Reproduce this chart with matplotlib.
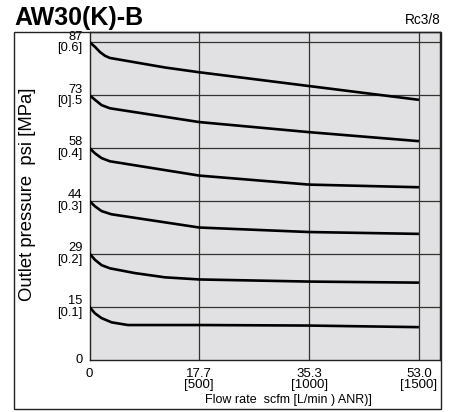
import matplotlib
matplotlib.use("Agg")
import matplotlib.pyplot as plt
from matplotlib.patches import Rectangle

plt.rcParams['font.family'] = ['Liberation Sans', 'DejaVu Sans']

# Data: flow rate (L/min ANR) vs outlet pressure (MPa)
flow_06 = [0, 25, 48, 71, 93, 344, 500, 1000, 1500]
pres_06 = [0.600, 0.591, 0.581, 0.574, 0.570, 0.552, 0.543, 0.517, 0.491]
flow_05 = [0, 25, 55, 93, 500, 1000, 1500]
pres_05 = [0.500, 0.491, 0.481, 0.475, 0.449, 0.430, 0.413]
flow_04 = [0, 25, 55, 93, 500, 1000, 1500]
pres_04 = [0.400, 0.390, 0.381, 0.375, 0.348, 0.331, 0.326]
flow_03 = [0, 25, 55, 100, 500, 1000, 1500]
pres_03 = [0.300, 0.290, 0.281, 0.275, 0.250, 0.2415, 0.238]
flow_02 = [0, 25, 55, 93, 207, 344, 500, 1000, 1500]
pres_02 = [0.201, 0.189, 0.179, 0.173, 0.164, 0.156, 0.152, 0.148, 0.146]
flow_01 = [0, 25, 55, 101, 175, 221, 500, 1000, 1500]
pres_01 = [0.100, 0.088, 0.079, 0.071, 0.066, 0.066, 0.066, 0.065, 0.062]

series = [(flow_06, pres_06), (flow_05, pres_05), (flow_04, pres_04),
          (flow_03, pres_03), (flow_02, pres_02), (flow_01, pres_01)]

y_ticks = [0, 0.1, 0.2, 0.3, 0.4, 0.5, 0.6]
y_labels = ["0", "15\n[0.1]", "29\n[0.2]", "44\n[0.3]", "58\n[0.4]", "73\n[0].5", "87\n[0.6]"]
x_ticks = [0, 500, 1000, 1500]
x_labels = ["0", "17.7\n[500]", "35.3\n[1000]", "53.0\n[1500]"]

title = "AW30(K)-B"
subtitle = "Rc3/8"
xlabel = "Flow rate  scfm [L/min ) ANR)]"
ylabel = "Outlet pressure  psi [MPa]"

W, H = 449, 412
fig = plt.figure(figsize=(W / 100, H / 100), dpi=100)

L, R, T, B = 89.5, 440, 32, 360
ax = fig.add_axes([L / W, 1 - B / H, (R - L) / W, (B - T) / H])
ax.set_facecolor('#e1e1e3')
ax.set_xlim(0, 1596)
ax.set_ylim(0, 0.619)

for x in x_ticks[1:]:
    ax.axvline(x, color='#333333', lw=0.9, zorder=1)
for y in y_ticks[1:]:
    ax.axhline(y, color='#333333', lw=0.9, zorder=1)

for fx, py in series:
    ax.plot(fx, py, color='black', lw=1.9, solid_capstyle='butt',
            solid_joinstyle='round', zorder=3)

ax.set_yticks(y_ticks)
ax.set_yticklabels(y_labels, fontsize=9.3, linespacing=0.9, ha='right', va='center')
ax.set_xticks(x_ticks)
ax.set_xticklabels(x_labels, fontsize=9.5, linespacing=0.9, va='top')
ax.tick_params(axis='y', length=0, pad=5)
ax.tick_params(axis='x', length=0, pad=6)
for s in ax.spines.values():
    s.set_color('#222222')
    s.set_linewidth(1.0)

fig.text(288 / W, 1 - 400 / H, xlabel, fontsize=9, ha='center', va='center')
fig.text(28 / W, 1 - 194 / H, ylabel, fontsize=13.3, ha='center', va='center', rotation=90)

fig.text(14 / W, 1 - 25 / H, title, fontsize=18, fontweight='bold', ha='left', va='baseline')
fig.text(441 / W, 1 - 23.5 / H, subtitle, fontsize=9.8, ha='right', va='baseline')

frame = Rectangle((14 / W, 1 - 409 / H), (441 - 14) / W, (409 - 32) / H,
                  transform=fig.transFigure, fill=False, edgecolor='#222222', lw=1.0)
fig.patches.append(frame)

fig.savefig("out.png", dpi=100)
